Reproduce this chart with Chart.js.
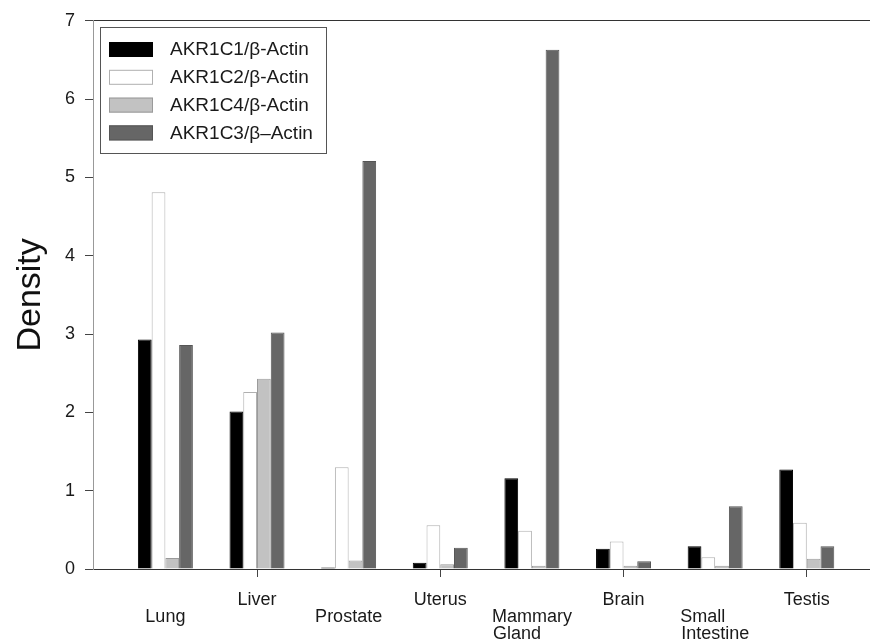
<!DOCTYPE html>
<html>
<head>
<meta charset="utf-8">
<title>AKR1C expression density</title>
<script src="https://cdn.jsdelivr.net/npm/chart.js@4.4.1/dist/chart.umd.min.js"></script>
<style>
  html, body { margin: 0; padding: 0; background: #fff; }
  #wrap { width: 870px; height: 641px; }
</style>
</head>
<body>
<div id="wrap"><canvas id="chart" width="870" height="641"></canvas></div>
<script>
// tissues, left to right
const tissues = ['Lung', 'Liver', 'Prostate', 'Uterus', 'Mammary Gland', 'Brain', 'Small Intestine', 'Testis'];

// density ratios
const akr1c1 = [2.93, 2.01, 0.02, 0.08, 1.16, 0.26, 0.29, 1.27];
const akr1c2 = [4.81, 2.26, 1.30, 0.56, 0.49, 0.35, 0.15, 0.59];
const akr1c4 = [0.14, 2.43, 0.11, 0.06, 0.04, 0.04, 0.04, 0.13];
const akr1c3 = [2.86, 3.02, 5.21, 0.27, 6.63, 0.10, 0.80, 0.29];

const yTicks = [0, 1, 2, 3, 4, 5, 6, 7];

const FONT = '"Liberation Sans", Arial, Helvetica, sans-serif';

function points(vals) {
  return vals.map((v, i) => ({ x: i, y: v }));
}

// two-word names go on two lines, left aligned like the figure:
// pad the shorter line with spaces so centred lines share a left edge
const meas = document.createElement('canvas').getContext('2d');
meas.font = '18px ' + FONT;
function tickLines(name) {
  const lines = name.split(' ');
  if (lines.length < 2) return lines;
  const widest = Math.max(...lines.map(l => meas.measureText(l).width));
  const sp = meas.measureText(' ').width;
  return lines.map(l => l + ' '.repeat(Math.round((widest - meas.measureText(l).width) / sp)));
}

// legend drawn inside the plot, boxed like the original figure
const boxedLegend = {
  id: 'boxedLegend',
  afterDatasetsDraw(chart) {
    const ctx = chart.ctx;
    const x = 100, y = 27, w = 226, h = 126;
    ctx.save();
    ctx.fillStyle = '#fff';
    ctx.fillRect(x, y, w, h);
    ctx.strokeStyle = '#555';
    ctx.lineWidth = 1;
    ctx.strokeRect(x + 0.5, y + 0.5, w, h);
    chart.data.datasets.forEach((ds, i) => {
      const cy = 49 + i * 27.8;
      ctx.fillStyle = ds.backgroundColor;
      ctx.fillRect(109, cy - 7, 44, 15);
      ctx.strokeStyle = ds.borderColor;
      ctx.strokeRect(109.5, cy - 6.5, 43, 14);
      ctx.fillStyle = '#1a1a1a';
      ctx.font = '19px ' + FONT;
      ctx.textBaseline = 'middle';
      ctx.textAlign = 'left';
      ctx.fillText(ds.label, 170, cy + 1);
    });
    ctx.restore();
  }
};

new Chart(document.getElementById('chart'), {
  type: 'bar',
  data: {
    datasets: [
      { label: 'AKR1C1/β-Actin', data: points(akr1c1), backgroundColor: '#000000', borderColor: '#000000', borderWidth: 1 },
      { label: 'AKR1C2/β-Actin', data: points(akr1c2), backgroundColor: '#ffffff', borderColor: '#b0b0b0', borderWidth: 1 },
      { label: 'AKR1C4/β-Actin', data: points(akr1c4), backgroundColor: '#c2c2c2', borderColor: '#9a9a9a', borderWidth: 1 },
      { label: 'AKR1C3/β–Actin', data: points(akr1c3), backgroundColor: '#666666', borderColor: '#555555', borderWidth: 1 }
    ]
  },
  options: {
    responsive: false,
    animation: false,
    layout: { padding: { top: 20, right: 0, bottom: 0, left: 0 } },
    datasets: { bar: { categoryPercentage: 0.6, barPercentage: 1.0 } },
    plugins: {
      legend: { display: false },
      tooltip: { enabled: false }
    },
    scales: {
      x: {
        type: 'linear',
        offset: false,
        min: -0.79,
        max: 7.69,
        afterBuildTicks: (scale) => { scale.ticks = tissues.map((_, i) => ({ value: i })); },
        afterFit: (scale) => { scale.height = 72; },
        border: { color: '#333', width: 1 },
        grid: {
          offset: false,
          drawOnChartArea: false,
          tickLength: 8,
          tickColor: (c) => (c.tick && c.tick.value % 2 === 1) ? '#444' : 'rgba(0,0,0,0)'
        },
        ticks: {
          autoSkip: false,
          maxRotation: 0,
          padding: 14,
          color: '#1a1a1a',
          // staggered labels: even ticks sit one line lower
          font: (c) => ({ family: FONT, size: 18, lineHeight: (c.index % 2 === 0) ? 0.95 : 1.0 }),
          callback: (v) => {
            const lines = tissues[v] ? tickLines(tissues[v]) : [''];
            return v % 2 === 0 ? [''].concat(lines) : lines;
          }
        }
      },
      y: {
        min: 0,
        max: 7,
        afterBuildTicks: (scale) => { scale.ticks = yTicks.map(v => ({ value: v })); },
        afterFit: (scale) => { scale.width = 93; },
        border: { color: '#999', width: 1 },
        grid: {
          color: (c) => (c.tick && c.tick.value === 7) ? '#333' : 'rgba(0,0,0,0)',
          tickColor: '#444',
          tickLength: 8
        },
        ticks: {
          padding: 10,
          color: '#1a1a1a',
          font: { family: FONT, size: 18 }
        },
        title: {
          display: true,
          text: 'Density',
          color: '#111',
          padding: { top: 10, bottom: 0 },
          font: { family: FONT, size: 34 }
        }
      }
    }
  },
  plugins: [boxedLegend]
});
</script>
</body>
</html>
